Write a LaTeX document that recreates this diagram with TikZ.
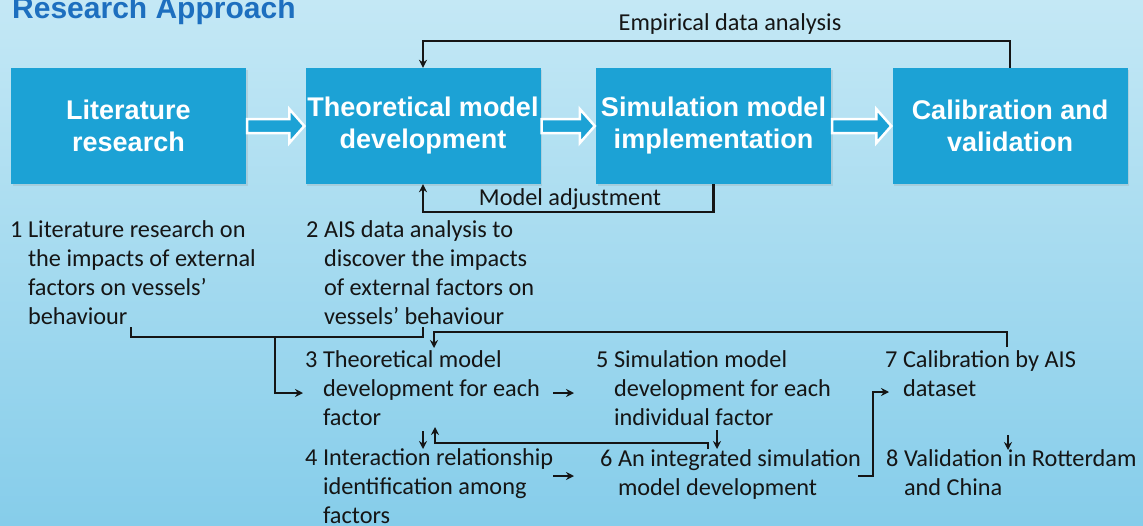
\documentclass[tikz,border=0pt]{standalone}
\usepackage{fontspec}
\setmainfont{Carlito}
\newfontfamily\arialfont{Liberation Sans}
\usetikzlibrary{arrows.meta}
\usetikzlibrary{shadows}
\definecolor{boxblue}{HTML}{1CA2D5}
\definecolor{headblue}{HTML}{1D6FBF}
\definecolor{skytop}{HTML}{C4E8F5}
\definecolor{skybottom}{HTML}{86CDEA}
\definecolor{ink}{HTML}{151515}

\begin{document}
\begin{tikzpicture}[x=1pt, y=-1pt]
	\tikzstyle{stage}=[rectangle, fill=boxblue, minimum width=235pt, minimum height=116pt,
	                        inner sep=0pt, text=white, align=center,
	                        font=\arialfont\bfseries\fontsize{27}{32}\selectfont,
	                        drop shadow={opacity=0.18, shadow xshift=1.5pt, shadow yshift=-1.5pt}];
	\tikzstyle{item}=[anchor=base west, inner sep=0pt, text=ink, font=\fontsize{24.3}{29}\selectfont];
	\tikzstyle{note}=[anchor=base, inner sep=0pt, text=ink, font=\fontsize{24.3}{29}\selectfont];
	\tikzstyle{wire}=[draw=ink, line width=2.2pt];
	\tikzstyle{link}=[wire, -{Stealth[length=8pt, width=8pt]}];
	\tikzstyle{fatarrow}=[draw=white, line width=2.5pt, fill=boxblue, line join=miter];

	\shade[top color=skytop, bottom color=skybottom] (0,0) rectangle (1143,525);
	\useasboundingbox (0,0) rectangle (1143,525);

	\node[anchor=base west, inner sep=0pt, text=headblue,
	      font=\arialfont\bfseries\fontsize{30}{36}\selectfont] (title) at (12,18) {Research Approach};

	\node[stage] (lit) at (128.5,126) {Literature\\research};
	\node[stage] (theo) at (423,126) {Theoretical model\\development};
	\node[stage] (sim) at (713.5,126) {Simulation model\\implementation};
	\node[stage] (cal) at (1010,126) {Calibration and\\validation};

	\foreach \a/\b in {lit/theo, theo/sim, sim/cal}
	{\draw[fatarrow] ([xshift=1pt, yshift=7pt]\a.east) -- ([xshift=-16pt, yshift=7pt]\b.west)
	  -- ([xshift=-16pt, yshift=17pt]\b.west) -- ([xshift=-1pt]\b.west)
	  -- ([xshift=-16pt, yshift=-17pt]\b.west) -- ([xshift=-16pt, yshift=-7pt]\b.west)
	  -- ([xshift=1pt, yshift=-7pt]\a.east) -- cycle;}

	\node[note] (emp) at (730,30) {Empirical data analysis};
	\node[note] (adj) at (570,205) {Model adjustment};
	\draw[link] (cal.north) -- ++(0,-27) -| (theo.north);
	\draw[link] (sim.south) -- ++(0,28) -| (theo.south);

	\node[item] (t1) at (10,237) {\begin{tabular}[t]{@{}l@{\ }l@{}}1 & Literature research on\\
	  & the impacts of external\\ & factors on vessels'\\ & behaviour\end{tabular}};
	\node[item] (t2) at (306,237) {\begin{tabular}[t]{@{}l@{\ }l@{}}2 & AIS data analysis to\\
	  & discover the impacts\\ & of external factors on\\ & vessels' behaviour\end{tabular}};
	\node[item] (t3) at (305,367) {\begin{tabular}[t]{@{}l@{\ }l@{}}3 & Theoretical model\\
	  & development for each\\ & factor\end{tabular}};
	\node[item] (t4) at (305,465) {\begin{tabular}[t]{@{}l@{\ }l@{}}4 & Interaction relationship\\
	  & identification among\\ & factors\end{tabular}};
	\node[item] (t5) at (596,367) {\begin{tabular}[t]{@{}l@{\ }l@{}}5 & Simulation model\\
	  & development for each\\ & individual factor\end{tabular}};
	\node[item] (t6) at (600,466) {\begin{tabular}[t]{@{}l@{\ }l@{}}6 & An integrated simulation\\
	  & model development\end{tabular}};
	\node[item] (t7) at (885,367) {\begin{tabular}[t]{@{}l@{\ }l@{}}7 & Calibration by AIS\\
	  & dataset\end{tabular}};
	\node[item] (t8) at (886,466) {\begin{tabular}[t]{@{}l@{\ }l@{}}8 & Validation in Rotterdam\\
	  & and China\end{tabular}};

	\coordinate (t1end) at (131,327);
	\coordinate (t2end) at (423,327);
	\coordinate (fork) at (275,337);
	\coordinate (t3in) at (303,393);
	\coordinate (t7top) at (1007,347);
	\coordinate (t3top) at (434,348);
	\coordinate (r3) at (553,393);
	\coordinate (r5) at (574,393);
	\coordinate (r4) at (553,476);
	\coordinate (r6) at (574,476);
	\coordinate (d3) at (423,431);
	\coordinate (d4) at (423,449);
	\coordinate (d5) at (717,430);
	\coordinate (d6) at (717,449);
	\coordinate (d7) at (1008,435);
	\coordinate (d8) at (1008,450);
	\coordinate (h6) at (708,449);
	\coordinate (u3) at (435,427);
	\coordinate (h7) at (858,476);
	\coordinate (r7) at (889,392);

	\draw[wire] (t1end) -- ++(0,10) -| (t2end);
	\draw[link] (fork) |- (t3in);
	\draw[link] (t7top) -- ++(0,-15) -| (t3top);
	\draw[link] (h6) -- ++(0,-6) -| (u3);
	\draw[link] (h7) -- ++(15,0) |- (r7);
	\foreach \s/\e in {r3/r5, r4/r6, d3/d4, d5/d6, d7/d8}
	{\draw[link] (\s) -- (\e);}
\end{tikzpicture}
\end{document}
